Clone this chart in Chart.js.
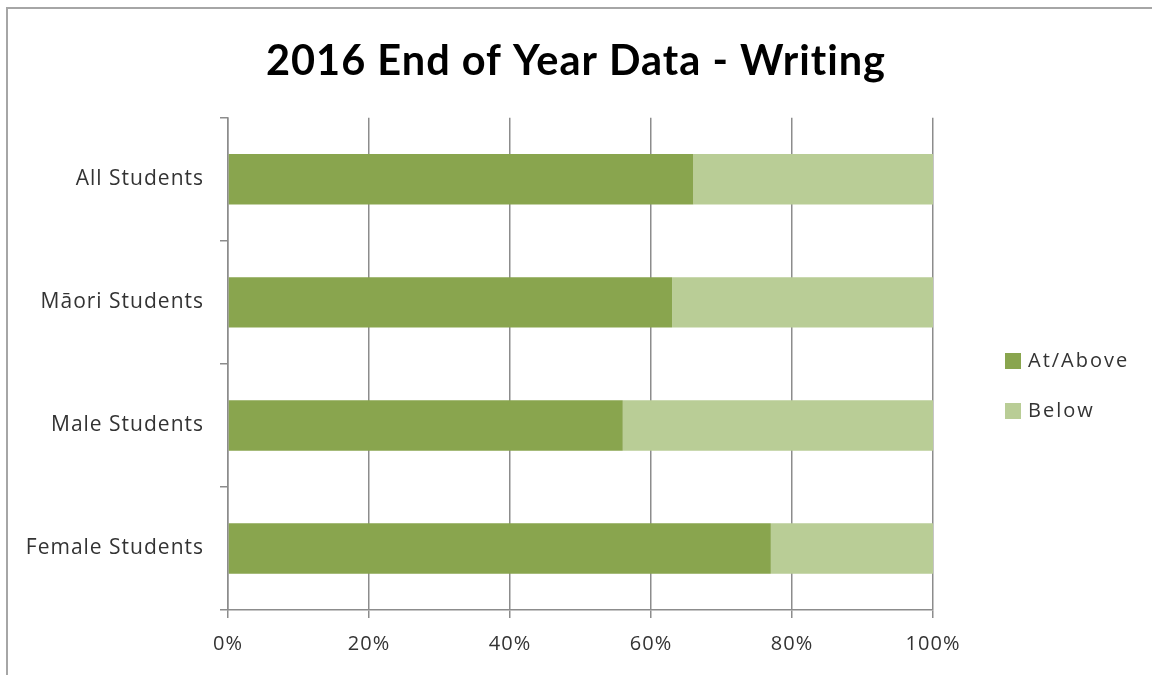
<!DOCTYPE html>
<html>
<head>
<meta charset="utf-8">
<script src="https://cdn.jsdelivr.net/npm/chart.js@4"></script>
<style>
  html, body { margin: 0; padding: 0; background: #fff; overflow: hidden; }
  #wrap { position: relative; width: 1152px; height: 675px; }
  #frame { position: absolute; left: 6px; top: 7px; width: 1200px; height: 700px; border: 2px solid #a6a6a6; box-sizing: border-box; pointer-events: none; }
  canvas { position: absolute; left: 0; top: 0; }
</style>
</head>
<body>
<div id="wrap">
  <canvas id="c" width="1152" height="675"></canvas>
  <div id="frame"></div>
</div>
<script>
const categories = ["All Students", "Māori Students", "Male Students", "Female Students"];
const atAbove = [66, 63, 56, 77];
const below = [34, 37, 44, 23];
const seriesNames = ["At/Above", "Below"];
const xTicks = [0, 20, 40, 60, 80, 100];
const titleText = "2016 End of Year Data - Writing";

const FONT = "'Open Sans', Lato, sans-serif";
const TFONT = "Lato, 'Open Sans', sans-serif";
const colors = ["#89a54e", "#b9cd96"];

const spacing = {
  id: 'spacing',
  beforeDraw(chart) { chart.ctx.letterSpacing = "1px"; },
  afterDraw(chart) { chart.ctx.letterSpacing = "0px"; }
};

const sideLegend = {
  id: 'sideLegend',
  afterDraw(chart) {
    const ctx = chart.ctx;
    ctx.save();
    ctx.font = "20px " + FONT;
    ctx.letterSpacing = "2px";
    ctx.textBaseline = "middle";
    chart.data.datasets.forEach((ds, i) => {
      const y = 361 + i * 50;
      ctx.fillStyle = ds.backgroundColor;
      ctx.fillRect(1005, y - 8, 16, 16);
      ctx.fillStyle = "#333";
      ctx.fillText(ds.label, 1028, y);
    });
    ctx.restore();
  }
};

new Chart(document.getElementById('c'), {
  type: 'bar',
  data: {
    labels: categories,
    datasets: [
      { label: seriesNames[0], data: atAbove, backgroundColor: colors[0], categoryPercentage: 1, barPercentage: 0.41 },
      { label: seriesNames[1], data: below, backgroundColor: colors[1], categoryPercentage: 1, barPercentage: 0.41 }
    ]
  },
  options: {
    indexAxis: 'y',
    responsive: false,
    animation: false,
    layout: { padding: { left: 0, right: 0, top: 0, bottom: 0 } },
    plugins: {
      legend: { display: false },
      tooltip: { enabled: false },
      title: {
        display: true,
        text: titleText,
        color: "#000",
        font: { family: TFONT, size: 41.5, weight: 'bold' },
        padding: { top: 37, bottom: 31 }
      }
    },
    scales: {
      x: {
        stacked: true,
        min: 0, max: 100,
        afterBuildTicks: s => { s.ticks = xTicks.map(v => ({ value: v })); },
        afterFit: s => { s.height = 65; },
        border: { display: true, color: "#8c8c8c", width: 1.5 },
        grid: { display: true, drawOnChartArea: true, color: "#8c8c8c", lineWidth: 1.5, tickLength: 8, tickColor: "#8c8c8c" },
        ticks: { color: "#333", font: { family: FONT, size: 20 }, padding: 14, callback: v => v + "%", maxRotation: 0 }
      },
      y: {
        stacked: true,
        afterFit: s => { s.width = 228; },
        border: { display: true, color: "#8c8c8c", width: 1.5 },
        grid: { display: true, drawOnChartArea: false, offset: true, color: "#8c8c8c", lineWidth: 1.5, tickLength: 8 },
        ticks: { color: "#333", font: { family: FONT, size: 21 }, padding: 16 }
      },
      spacer: {
        type: 'category',
        position: 'right',
        axis: 'y',
        afterFit: s => { s.width = 219; },
        border: { display: false },
        grid: { display: false },
        ticks: { display: false }
      }
    }
  },
  plugins: [spacing, sideLegend]
});
</script>
</body>
</html>
